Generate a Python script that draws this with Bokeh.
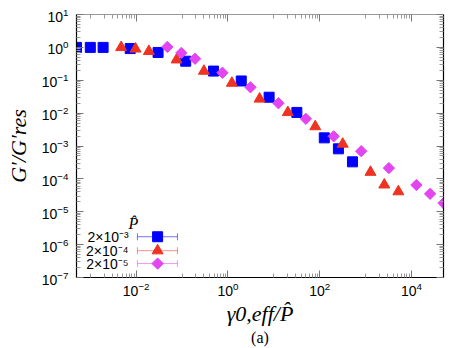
from math import pi, log10
from bokeh.plotting import figure
from bokeh.models import LogAxis, FixedTicker, Label, Range1d
from bokeh.embed import file_html
from bokeh.resources import INLINE

# ---- data ----
series_labels = ["2×10⁻³", "2×10⁻⁴", "2×10⁻⁵"]
p3_x = [5.0e-4, 1.0e-3, 1.9e-3, 7.4e-3, 0.030, 0.12, 0.485, 1.95, 7.9, 31.8, 126, 256, 518]
p3_y = [1.0, 1.0, 1.0, 0.92, 0.70, 0.38, 0.19, 0.095, 0.0305, 0.0105, 1.77e-3, 8.2e-4, 3.3e-4]
p4_x = [4.7e-3, 9.7e-3, 0.0189, 0.076, 0.30, 1.22, 4.9, 20.2, 80, 318, 1280, 2560, 5190]
p4_y = [1.0, 0.9, 0.76, 0.42, 0.19, 0.082, 0.027, 0.0105, 3.9e-3, 1.15e-3, 1.6e-4, 6.6e-5, 4.1e-5]
p5_x = [0.0477, 0.0966, 0.192, 0.76, 3.1, 12.6, 50, 202, 803, 3230, 12850, 25500, 50000]
p5_y = [1.03, 0.68, 0.45, 0.169, 0.061, 0.020, 6.7e-3, 1.97e-3, 6.95e-4, 2.13e-4, 6.5e-5, 3.5e-5, 1.83e-5]
x_major = [1e-2, 1e0, 1e2, 1e4]
y_major = [10.0 ** e for e in range(-7, 2)]

XMIN, XMAX = 5e-4, 5e4
YMIN, YMAX = 1e-7, 1e1

colors = ["#0000FF", "#EE3322", "#E444F2"]
serif = "Liberation Serif"

W, H = 463, 348
p = figure(width=W, height=H, x_axis_type="log", y_axis_type="log",
           x_range=Range1d(XMIN, XMAX), y_range=Range1d(YMIN, YMAX),
           output_backend="svg", toolbar_location=None,
           min_border_left=76, min_border_right=W - 443, min_border_top=14, min_border_bottom=H - 279)
p.outline_line_color = None
p.xgrid.visible = False
p.ygrid.visible = False
p.background_fill_color = "white"
p.border_fill_color = "white"

xa = p.below[0]
ya = p.left[0]

x_minor = [k * 10.0 ** e for e in (-3, -1, 1, 3) for k in range(1, 10)]
y_minor = [k * 10.0 ** e for e in range(-7, 1) for k in range(2, 10)]
xt = FixedTicker(ticks=x_major, minor_ticks=x_minor)
yt = FixedTicker(ticks=y_major, minor_ticks=y_minor)

xa.ticker = xt
ya.ticker = yt

top = LogAxis(ticker=xt, major_label_text_font_size="1px", major_label_text_alpha=0, major_label_standoff=0)
right = LogAxis(ticker=yt, major_label_text_font_size="1px", major_label_text_alpha=0, major_label_standoff=0)
p.add_layout(top, "above")
p.add_layout(right, "right")

for ax in [xa, ya, top, right]:
    ax.axis_line_color = "black"
    ax.axis_line_width = 1.2
    ax.major_tick_in = 7
    ax.major_tick_out = 0
    ax.minor_tick_in = 4
    ax.minor_tick_out = 0
    ax.major_tick_line_color = "#777777"
    ax.minor_tick_line_color = "#999999"
    ax.major_label_text_font = "Liberation Sans"
    ax.major_label_text_color = "black"
top.axis_line_color = "#999999"

for ax in [xa, ya]:
    ax.major_label_text_font_size = "14px"
    ax.axis_label_text_font = serif
    ax.axis_label_text_font_style = "italic"
    ax.axis_label_text_font_size = "22px"
    ax.axis_label_text_color = "black"
xa.major_label_standoff = 4
xa.axis_label = "γ0,eff/P̂"
xa.axis_label_standoff = 2
ya.major_label_standoff = 8
ya.axis_label = "G′/G′res"
ya.axis_label_standoff = 8

# "(a)" caption as a label-only axis under the x axis
cap = LogAxis(ticker=FixedTicker(ticks=[]), axis_line_color=None, major_tick_line_color=None,
              minor_tick_line_color=None, major_label_text_font_size="1px", major_label_text_alpha=0,
              major_label_standoff=0, axis_label="(a)", axis_label_standoff=0,
              axis_label_text_font=serif, axis_label_text_font_style="normal",
              axis_label_text_font_size="16px", axis_label_text_color="black")
p.add_layout(cap, "below")

# ---- data series ----
p.scatter(p3_x, p3_y, marker="square", size=10, fill_color=colors[0], line_color=colors[0])
p.scatter(p4_x, p4_y, marker="triangle", size=11, fill_color=colors[1], line_color=colors[1])
p.scatter(p5_x, p5_y, marker="square", angle=pi / 4, size=8, fill_color=colors[2], line_color=colors[2])

# ---- legend (positions as fractions of the frame) ----
def fx(f):
    return 10 ** (log10(XMIN) + f * (log10(XMAX) - log10(XMIN)))

def fy(f):
    return 10 ** (log10(YMIN) + f * (log10(YMAX) - log10(YMIN)))

FH = 265.0
row_f = [0.155, 0.102, 0.053]
x0, x1, xc, xt_f = 0.166, 0.275, 0.221, 0.142
markers = [("square", 10, 0), ("triangle", 11, 0), ("square", 8, pi / 4)]
for i, (f, c, (mk, sz, ang)) in enumerate(zip(row_f, colors, markers)):
    p.segment(x0=[fx(x0)], y0=[fy(f)], x1=[fx(x1)], y1=[fy(f)], line_color=c, line_width=1, line_alpha=0.55)
    for xe in (x0, x1):
        p.segment(x0=[fx(xe)], y0=[fy(f - 3.5 / FH)], x1=[fx(xe)], y1=[fy(f + 3.5 / FH)],
                  line_color=c, line_width=1, line_alpha=0.55)
    p.scatter([fx(xc)], [fy(f)], marker=mk, size=sz, angle=ang, fill_color=c, line_color=c)
    p.add_layout(Label(x=fx(xt_f), y=fy(f), text=series_labels[i], text_align="right",
                       text_baseline="middle", text_font="Liberation Sans", text_font_size="14px",
                       text_color="black"))

p.add_layout(Label(x=fx(xt_f), y=fy(0.204), text="P̂", text_font=serif, text_font_style="italic",
                   text_font_size="16px", text_baseline="alphabetic", text_align="left",
                   text_color="black"))

open("out.html", "w").write(file_html(p, INLINE))
